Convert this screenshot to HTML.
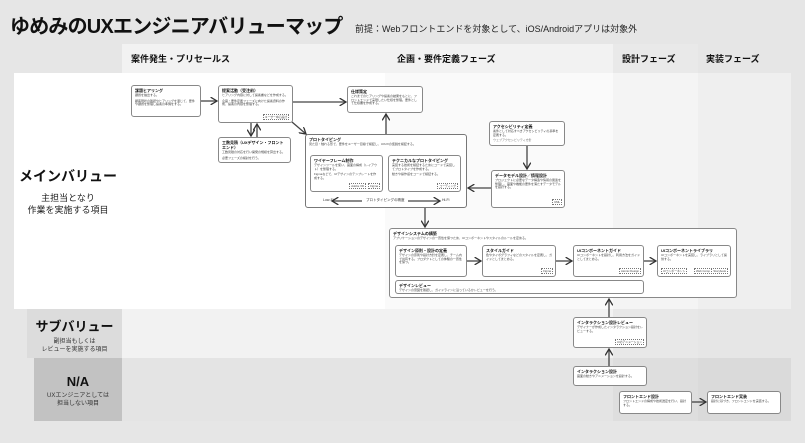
<!DOCTYPE html>
<html><head><meta charset="utf-8"><style>
*{margin:0;padding:0;box-sizing:border-box}
body{width:805px;height:443px;background:#e6e6e6;position:relative;overflow:hidden;font-family:"Liberation Sans","Noto Sans CJK JP",sans-serif;color:#111}
.a{position:absolute}
.n{position:absolute;background:#fff;border:1px solid #888;border-radius:3px;padding:2px 3px;overflow:hidden}
.n b{display:block;font-size:4px;line-height:5px;margin-bottom:1px}
.n p{font-size:3px;line-height:3.6px;color:#444;margin-bottom:2px}
.t{position:absolute;border:1px dotted #777;font-size:2.8px;line-height:4px;padding:0 1px;color:#444;background:#fff}
.h{position:absolute;top:52px;font-size:9px;font-weight:bold}
.lab{position:absolute;text-align:center}
</style></head><body>
<div class="a" style="left:10px;top:10px;font-size:20px;font-weight:bold;letter-spacing:-0.8px">ゆめみのUXエンジニアバリューマップ</div>
<div class="a" style="left:355px;top:22px;font-size:9px;color:#222">前提：Webフロントエンドを対象として、iOS/Androidアプリは対象外</div>

<div class="a" style="left:122px;top:44px;width:263px;height:29px;background:#f2f2f2"></div>
<div class="a" style="left:385px;top:44px;width:228px;height:29px;background:#f2f2f2"></div>
<div class="a" style="left:613px;top:44px;width:85px;height:29px;background:#e9e9e9"></div>
<div class="a" style="left:698px;top:44px;width:93px;height:29px;background:#e6e6e6"></div>
<div class="h" style="left:131px">案件発生・プリセールス</div>
<div class="h" style="left:397px">企画・要件定義フェーズ</div>
<div class="h" style="left:622px">設計フェーズ</div>
<div class="h" style="left:706px">実装フェーズ</div>

<div class="a" style="left:14px;top:73px;width:371px;height:236px;background:#fff"></div>
<div class="a" style="left:385px;top:73px;width:228px;height:236px;background:#fafafa"></div>
<div class="a" style="left:613px;top:73px;width:85px;height:236px;background:#f4f4f4"></div>
<div class="a" style="left:698px;top:73px;width:93px;height:236px;background:#efefef"></div>
<div class="a" style="left:27px;top:309px;width:95px;height:49px;background:#dcdcdc"></div>
<div class="a" style="left:122px;top:309px;width:491px;height:49px;background:#f2f2f2"></div>
<div class="a" style="left:613px;top:309px;width:85px;height:49px;background:#e8e8e8"></div>
<div class="a" style="left:698px;top:309px;width:93px;height:49px;background:#e6e6e6"></div>
<div class="a" style="left:34px;top:358px;width:88px;height:63px;background:#c2c2c2"></div>
<div class="a" style="left:122px;top:358px;width:491px;height:63px;background:#e4e4e4"></div>
<div class="a" style="left:613px;top:358px;width:85px;height:63px;background:#dedede"></div>
<div class="a" style="left:698px;top:358px;width:93px;height:63px;background:#dadada"></div>

<div class="lab" style="left:14px;top:166px;width:108px"><div style="font-size:14px;font-weight:bold">メインバリュー</div><div style="font-size:9px;line-height:12px;margin-top:6px;color:#222">主担当となり<br>作業を実施する項目</div></div>
<div class="lab" style="left:27px;top:316px;width:95px"><div style="font-size:13px;font-weight:bold">サブバリュー</div><div style="font-size:6px;line-height:8px;margin-top:3px;color:#333">副担当もしくは<br>レビューを実施する項目</div></div>
<div class="lab" style="left:34px;top:374px;width:88px"><div style="font-size:13px;font-weight:bold">N/A</div><div style="font-size:6px;line-height:8px;margin-top:3px;color:#333">UXエンジニアとしては<br>担当しない項目</div></div>

<div class="n" style="left:131px;top:85px;width:70px;height:32px"><b>課題ヒアリング</b><p>課題を抽出する。</p><p>顧客現状の確認やヒアリングを通じて、要件や課題を整理し提案の準備をする。</p></div>
<div class="n" style="left:218px;top:85px;width:75px;height:38px"><b>提案活動（受注前）</b><p>ヒアリング内容に対して提案書などを作成する。</p><p>企画・要件定義フェーズに向けた提案資料の作成、提案の内容を整理する。</p><span class="t" style="right:3px;bottom:2px">ユーザー中心設計</span></div>
<div class="n" style="left:218px;top:137px;width:73px;height:26px"><b>工数見積（UXデザイン・フロントエンド）</b><p>工数見積の対応を行い開発の規模を算出する。</p><p>必要フェーズの検討を行う。</p></div>
<div class="n" style="left:347px;top:86px;width:76px;height:27px"><b>仕様策定</b><p>これまでのヒアリングや提案の結果をもとに、フロントエンドで実現したい仕様を整理。要件として仕様書を作成する。</p></div>
<div class="n" style="left:305px;top:134px;width:162px;height:74px;border-color:#777"><b>プロトタイピング</b><p>見た目・触れる形で、要件をユーザー目線で検証し、UI/UXの仮説を検証する。</p></div>
<div class="n" style="left:310px;top:155px;width:73px;height:37px"><b>ワイヤーフレーム制作</b><p>デザインツールを使い、画面の構成（レイアウト）を整理する。</p><p>Figmaなどで、UIデザインのテンプレートを作成する。</p><span class="t" style="right:16px;bottom:2px">Adobe XD</span><span class="t" style="right:2px;bottom:2px">Figma</span></div>
<div class="n" style="left:388px;top:155px;width:73px;height:37px"><b>テクニカルなプロトタイピング</b><p>実装する技術を検証するためにコードで実装してプロトタイプを作成する。</p><p>動きや操作感をコードで検証する。</p><span class="t" style="right:2px;bottom:2px">コーディング</span></div>
<div class="a" style="left:323px;top:198px;font-size:3.5px;color:#333">Low-Fi</div>
<div class="a" style="left:366px;top:198px;font-size:3.5px;color:#333">プロトタイピングの精度</div>
<div class="a" style="left:442px;top:198px;font-size:3.5px;color:#333">Hi-Fi</div>
<div class="n" style="left:489px;top:121px;width:76px;height:25px"><b>アクセシビリティ定義</b><p>案件として対応すべきアクセシビリティの基準を定義する。</p><p style="color:#777">ウェブアクセシビリティ方針</p></div>
<div class="n" style="left:491px;top:170px;width:74px;height:38px"><b>データモデル設計／情報設計</b><p>プロジェクトに必要なデータ構造や情報の関連を整理し、画面や機能の要件を満たすデータモデルを設計する。</p><span class="t" style="right:2px;bottom:2px">UML</span></div>
<div class="n" style="left:389px;top:228px;width:348px;height:70px;border-color:#888"><b>デザインシステムの構築</b><p>アプリケーションのデザインの一貫性を保つため、UIコンポーネントやスタイルのルールを定める。</p></div>
<div class="n" style="left:395px;top:245px;width:72px;height:32px"><b>デザイン原則・設計の定義</b><p>デザインの原則や設計方針を定義し、チーム内で共有する。プロダクトとしての体験の一貫性を保つ。</p></div>
<div class="n" style="left:482px;top:245px;width:74px;height:32px"><b>スタイルガイド</b><p>色やタイポグラフィなどのスタイルを定義し、ガイドとしてまとめる。</p><span class="t" style="right:2px;bottom:2px">Figma</span></div>
<div class="n" style="left:573px;top:245px;width:71px;height:32px"><b>UIコンポーネントガイド</b><p>UIコンポーネントを設計し、利用方法をガイドとしてまとめる。</p><span class="t" style="right:2px;bottom:2px">Atomic Design</span></div>
<div class="n" style="left:657px;top:245px;width:74px;height:32px"><b>UIコンポーネントライブラリ</b><p>UIコンポーネントを実装し、ライブラリとして提供する。</p><span class="t" style="left:3px;bottom:2px">UIコンポーネント</span><span class="t" style="left:36px;bottom:2px">Web Comp</span><span class="t" style="right:2px;bottom:2px">Storybook</span></div>
<div class="n" style="left:395px;top:280px;width:249px;height:14px"><b>デザインレビュー</b><p>デザインの意図を確認し、ガイドラインに沿っているかレビューを行う。</p></div>
<div class="n" style="left:573px;top:317px;width:74px;height:31px"><b>インタラクション設計レビュー</b><p>デザイナーが作成したインタラクション設計をレビューする。</p><span class="t" style="right:2px;bottom:2px">UIのアニメーション</span></div>
<div class="n" style="left:573px;top:366px;width:74px;height:20px"><b>インタラクション設計</b><p>画面の動きやアニメーションを設計する。</p></div>
<div class="n" style="left:619px;top:391px;width:73px;height:23px"><b>フロントエンド設計</b><p>フロントエンドの構成や技術選定を行い、設計する。</p></div>
<div class="n" style="left:707px;top:391px;width:74px;height:23px"><b>フロントエンド実装</b><p>設計に基づき、フロントエンドを実装する。</p></div>

<svg class="a" style="left:0;top:0" width="805" height="443">
<defs><marker id="m" markerWidth="6" markerHeight="6" refX="5" refY="3" orient="auto"><path d="M0,0 L5,3 L0,6" fill="none" stroke="#333" stroke-width="1"/></marker></defs>
<g stroke="#444" stroke-width="1.3" fill="none" marker-end="url(#m)">
<line x1="201" y1="101" x2="217" y2="101"/>
<line x1="293" y1="102" x2="346" y2="102"/>
<line x1="251" y1="123" x2="251" y2="136"/>
<line x1="257" y1="137" x2="257" y2="124"/>
<line x1="292" y1="122" x2="306" y2="134"/>
<line x1="386" y1="134" x2="386" y2="114"/>
<line x1="527" y1="146" x2="527" y2="169"/>
<line x1="491" y1="188" x2="468" y2="188"/>
<line x1="425" y1="208" x2="425" y2="227"/>
<line x1="467" y1="261" x2="481" y2="261"/>
<line x1="556" y1="261" x2="572" y2="261"/>
<line x1="644" y1="261" x2="656" y2="261"/>
<line x1="609" y1="317" x2="609" y2="299"/>
<line x1="609" y1="366" x2="609" y2="349"/>
<line x1="692" y1="402" x2="706" y2="402"/>
<line x1="362" y1="201" x2="332" y2="201"/>
<line x1="408" y1="201" x2="440" y2="201"/>
</g></svg>
</body></html>
